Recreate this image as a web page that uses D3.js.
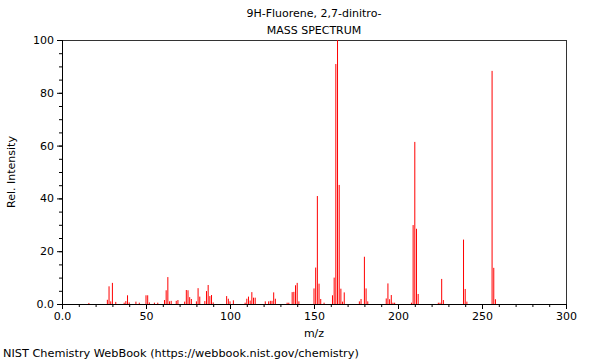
<!DOCTYPE html>
<html><head><meta charset="utf-8">
<script src="https://cdn.jsdelivr.net/npm/d3@7"></script>
<style>body{margin:0;background:#fff}svg{display:block;font-family:"DejaVu Sans",sans-serif}</style>
</head><body><svg id="c" width="600" height="360"></svg>
<script>
const title1 = "9H-Fluorene, 2,7-dinitro-";
const title2 = "MASS SPECTRUM";
const xLabel = "m/z";
const yLabel = "Rel. Intensity";
const footer = "NIST Chemistry WebBook (https://webbook.nist.gov/chemistry)";
const xTicks = [0, 50, 100, 150, 200, 250, 300];
const yTicks = [0, 20, 40, 60, 80, 100];
const mz = [16,27,28,29,30,32,37,38,39,40,44,46,50,51,52,55,57,61,62,63,64,65,68,69,73,74,75,76,77,80,81,82,85,86,87,88,89,90,
  98,99,100,102,109,110,111,112,113,114,115,121,123,124,125,126,127,134,135,137,138,139,140,141,
  150,151,152,153,154,156,161,162,163,164,165,166,167,168,177,178,180,181,182,193,194,195,196,197,198,
  208,209,210,211,212,224,225,226,227,239,240,241,256,257,258];
const intensity = [0.4,1.6,6.7,1.0,8.0,0.8,0.5,1.1,3.3,0.6,0.9,0.5,3.3,3.3,0.6,0.5,0.5,1.5,5.2,10.2,1.0,1.2,1.2,1.5,0.9,5.3,5.2,2.6,1.9,1.0,6.0,2.8,1.1,4.9,7.2,3.0,3.4,0.6,
  3.0,2.0,1.0,1.4,0.5,2.0,2.8,1.3,4.5,2.4,2.4,1.0,1.0,1.2,1.2,4.4,2.0,0.5,0.5,4.5,4.6,7.1,8.0,1.0,
  5.9,13.8,40.9,7.7,1.9,0.5,3.3,10.0,90.9,100,45.1,5.8,0.9,4.4,1.0,1.9,17.9,5.9,1.0,2.1,7.8,1.8,3.4,0.5,0.5,
  0.5,29.9,61.4,28.5,3.8,0.5,0.5,9.5,1.5,24.4,5.7,0.9,88.3,13.7,1.8];

const svg = d3.select("#c");
const m = {l:62, r:566, t:40, b:304};
const x = d3.scaleLinear().domain([0,300]).range([m.l, m.r]);
const y = d3.scaleLinear().domain([0,100]).range([m.b, m.t]);
const fmt = d => d === 0 ? "0.0" : String(d);

// frame
svg.append("rect").attr("x", m.l).attr("y", m.t).attr("width", m.r-m.l).attr("height", m.b-m.t)
  .attr("fill","none").attr("stroke","#333").attr("stroke-width",1).attr("shape-rendering","crispEdges");

// bars
const data = mz.map((v,i)=>({mz:v, val:intensity[i]}));
svg.append("g").selectAll("rect").data(data).join("rect")
  .attr("x", d => x(d.mz)-0.5).attr("width", 1)
  .attr("y", d => y(d.val)).attr("height", d => y(0)-y(d.val))
  .attr("fill", "#ff0000");

// axes
const xAxis = d3.axisBottom(x).tickValues(xTicks).tickFormat(fmt).tickSize(5).tickPadding(3);
const xMinor = d3.axisBottom(x).tickValues(d3.range(0,301,10)).tickFormat("").tickSize(3);
const yAxis = d3.axisLeft(y).tickValues(yTicks).tickFormat(fmt).tickSize(5).tickPadding(3);
const yMinor = d3.axisLeft(y).tickValues(d3.range(0,101,5)).tickFormat("").tickSize(3);
[xMinor, xAxis].forEach(a=>{
  const g = svg.append("g").attr("transform",`translate(0,${m.b})`).call(a);
  g.select(".domain").attr("stroke","#000");
  g.selectAll("text").attr("font-size",11).attr("fill","#000").attr("font-family","DejaVu Sans");
});
[yMinor, yAxis].forEach(a=>{
  const g = svg.append("g").attr("transform",`translate(${m.l},0)`).call(a);
  g.select(".domain").attr("stroke","#000");
  g.selectAll("text").attr("font-size",11).attr("fill","#000").attr("font-family","DejaVu Sans");
});

// texts
const cx = (m.l+m.r)/2;
svg.append("text").attr("x",cx).attr("y",17).attr("text-anchor","middle").attr("font-size",11).text(title1);
svg.append("text").attr("x",cx).attr("y",34).attr("text-anchor","middle").attr("font-size",11).text(title2);
svg.append("text").attr("x",cx).attr("y",337).attr("text-anchor","middle").attr("font-size",11).text(xLabel);
svg.append("text").attr("transform",`translate(15,${(m.t+m.b)/2}) rotate(-90)`).attr("text-anchor","middle").attr("font-size",11).text(yLabel);
svg.append("text").attr("x",3).attr("y",357).attr("font-size",11.3).text(footer);
</script></body></html>
